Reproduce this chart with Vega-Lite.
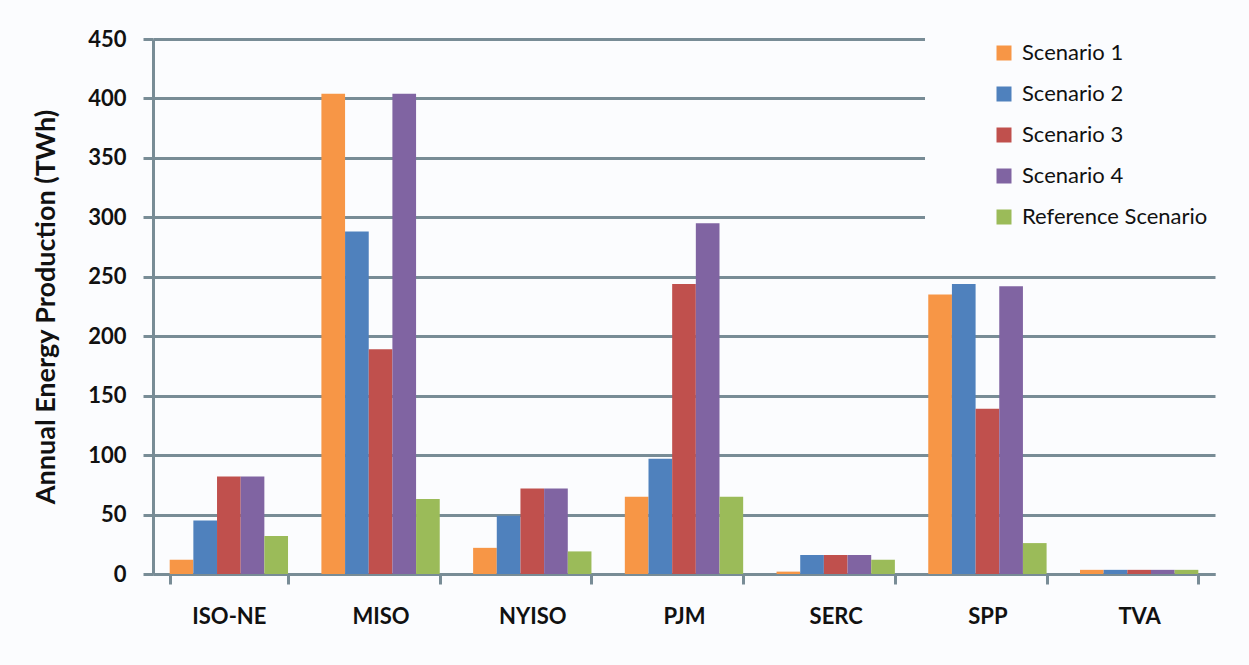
{
  "$schema": "https://vega.github.io/schema/vega-lite/v6.json",
  "width": 1062,
  "height": 535,
  "autosize": {"type": "none"},
  "padding": {"left": 153, "top": 39, "right": 34, "bottom": 91},
  "background": "#fbfcfe",
  "data": {
    "values": [
      {"region": "ISO-NE", "scenario": "Scenario 1", "value": 12},
      {"region": "ISO-NE", "scenario": "Scenario 2", "value": 45},
      {"region": "ISO-NE", "scenario": "Scenario 3", "value": 82},
      {"region": "ISO-NE", "scenario": "Scenario 4", "value": 82},
      {"region": "ISO-NE", "scenario": "Reference Scenario", "value": 32},
      {"region": "MISO", "scenario": "Scenario 1", "value": 404},
      {"region": "MISO", "scenario": "Scenario 2", "value": 288},
      {"region": "MISO", "scenario": "Scenario 3", "value": 189},
      {"region": "MISO", "scenario": "Scenario 4", "value": 404},
      {"region": "MISO", "scenario": "Reference Scenario", "value": 63},
      {"region": "NYISO", "scenario": "Scenario 1", "value": 22},
      {"region": "NYISO", "scenario": "Scenario 2", "value": 49},
      {"region": "NYISO", "scenario": "Scenario 3", "value": 72},
      {"region": "NYISO", "scenario": "Scenario 4", "value": 72},
      {"region": "NYISO", "scenario": "Reference Scenario", "value": 19},
      {"region": "PJM", "scenario": "Scenario 1", "value": 65},
      {"region": "PJM", "scenario": "Scenario 2", "value": 97},
      {"region": "PJM", "scenario": "Scenario 3", "value": 244},
      {"region": "PJM", "scenario": "Scenario 4", "value": 295},
      {"region": "PJM", "scenario": "Reference Scenario", "value": 65},
      {"region": "SERC", "scenario": "Scenario 1", "value": 2},
      {"region": "SERC", "scenario": "Scenario 2", "value": 16},
      {"region": "SERC", "scenario": "Scenario 3", "value": 16},
      {"region": "SERC", "scenario": "Scenario 4", "value": 16},
      {"region": "SERC", "scenario": "Reference Scenario", "value": 12},
      {"region": "SPP", "scenario": "Scenario 1", "value": 235},
      {"region": "SPP", "scenario": "Scenario 2", "value": 244},
      {"region": "SPP", "scenario": "Scenario 3", "value": 139},
      {"region": "SPP", "scenario": "Scenario 4", "value": 242},
      {"region": "SPP", "scenario": "Reference Scenario", "value": 26},
      {"region": "TVA", "scenario": "Scenario 1", "value": 3.5},
      {"region": "TVA", "scenario": "Scenario 2", "value": 3.5},
      {"region": "TVA", "scenario": "Scenario 3", "value": 3.5},
      {"region": "TVA", "scenario": "Scenario 4", "value": 3.5},
      {"region": "TVA", "scenario": "Reference Scenario", "value": 3.5}
    ]
  },
  "mark": {"type": "bar"},
  "encoding": {
    "x": {
      "field": "region",
      "type": "nominal",
      "sort": ["ISO-NE", "MISO", "NYISO", "PJM", "SERC", "SPP", "TVA"],
      "scale": {"paddingInner": 0.22, "paddingOuter": 0.11},
      "axis": {
        "title": null,
        "labelAngle": 0,
        "labelFont": "Lato",
        "labelFontWeight": "bold",
        "labelFontSize": 22,
        "labelColor": "#111111",
        "labelPadding": 22,
        "tickBand": "extent",
        "tickSize": 10,
        "tickWidth": 3,
        "tickColor": "#788c96",
        "domainColor": "#788c96",
        "domainWidth": 3,
        "grid": false
      }
    },
    "xOffset": {
      "field": "scenario",
      "type": "nominal",
      "sort": ["Scenario 1", "Scenario 2", "Scenario 3", "Scenario 4", "Reference Scenario"]
    },
    "y": {
      "field": "value",
      "type": "quantitative",
      "scale": {"domain": [0, 450], "nice": false},
      "axis": {
        "title": "Annual Energy Production (TWh)",
        "titleFont": "Lato",
        "titleFontWeight": "bold",
        "titleFontSize": 27,
        "titleColor": "#111111",
        "titlePadding": 27,
        "values": [0, 50, 100, 150, 200, 250, 300, 350, 400, 450],
        "labelFont": "Lato",
        "labelFontWeight": "bold",
        "labelFontSize": 22,
        "labelColor": "#111111",
        "labelPadding": 17,
        "tickSize": 10,
        "tickWidth": 3,
        "tickColor": "#788c96",
        "domainColor": "#788c96",
        "domainWidth": 3,
        "grid": true,
        "gridColor": "#788c96",
        "gridWidth": 3
      }
    },
    "color": {
      "field": "scenario",
      "type": "nominal",
      "sort": ["Scenario 1", "Scenario 2", "Scenario 3", "Scenario 4", "Reference Scenario"],
      "scale": {
        "domain": ["Scenario 1", "Scenario 2", "Scenario 3", "Scenario 4", "Reference Scenario"],
        "range": ["#F79646", "#4F81BD", "#C0504D", "#8064A2", "#9BBB59"]
      },
      "legend": {
        "orient": "none",
        "legendX": 772,
        "legendY": -17,
        "title": "\u00a0",
        "titleOrient": "left",
        "titleFontSize": 10,
        "titlePadding": 48,
        "fillColor": "#fbfcfe",
        "padding": 20,
        "symbolType": "square",
        "symbolSize": 225,
        "symbolStrokeWidth": 0,
        "symbolOpacity": 1,
        "labelFont": "Lato",
        "labelFontSize": 22,
        "labelColor": "#111111",
        "labelOffset": 7,
        "labelLimit": 300,
        "rowPadding": 19
      }
    }
  },
  "config": {"view": {"stroke": null}}
}
